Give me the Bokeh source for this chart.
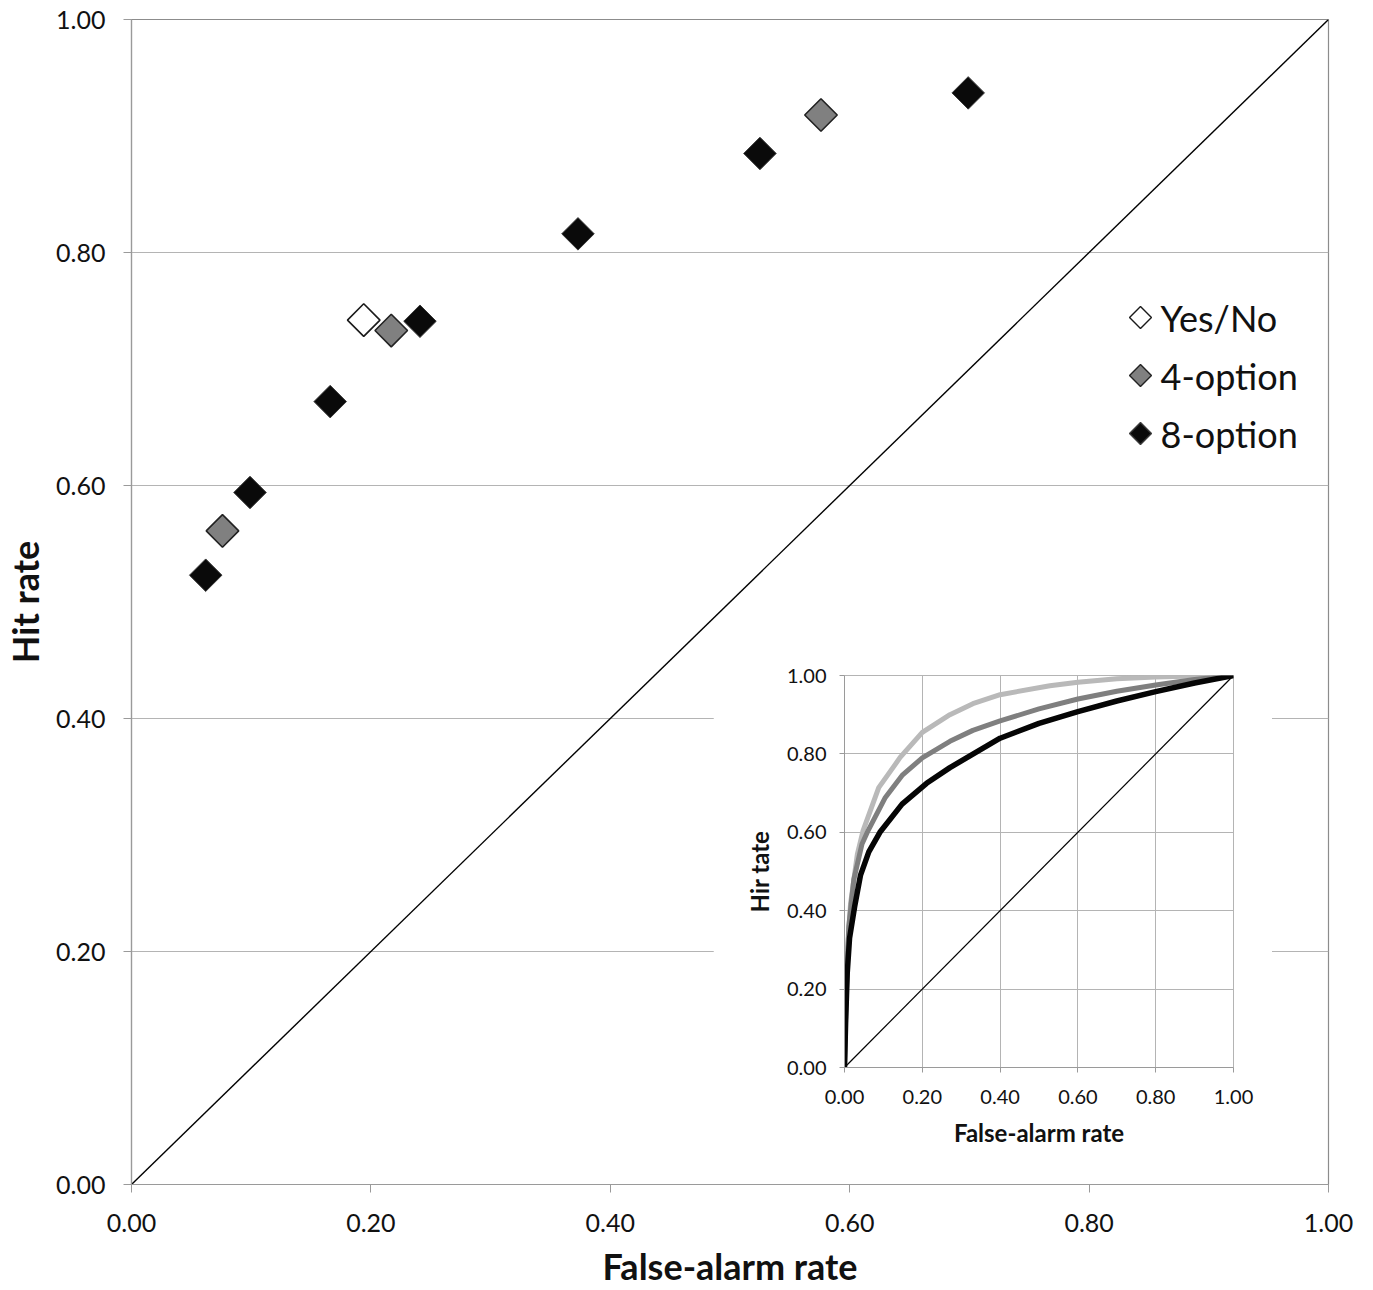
import numpy as np
from bokeh.plotting import figure
from bokeh.layouts import column
from bokeh.models import Range1d, FixedTicker, NumeralTickFormatter
from bokeh.core.properties import value
from bokeh.embed import file_html
from bokeh.resources import INLINE

# ---------------- data ----------------
fa_8opt = [0.062, 0.099, 0.166, 0.241, 0.373, 0.525, 0.699]
hit_8opt = [0.523, 0.594, 0.672, 0.741, 0.816, 0.885, 0.937]
fa_4opt = [0.076, 0.217, 0.576]
hit_4opt = [0.561, 0.733, 0.918]
fa_yn = [0.194]
hit_yn = [0.742]

legend_labels = ["Yes/No", "4-option", "8-option"]
legend_fills = ["white", "#808080", "#0a0a0a"]
legend_lines = ["#1a1a1a", "#222222", "#3a3a3a"]

diag = [0.0, 1.0]
ticks = [0.0, 0.2, 0.4, 0.6, 0.8, 1.0]

# inset ROC curves
roc_black_x = [0, 0.003, 0.007, 0.013, 0.026, 0.041, 0.0625, 0.091, 0.148, 0.211, 0.271, 0.40, 0.50, 0.60, 0.70, 0.80, 0.90, 1.0]
roc_black_y = [0, 0.12, 0.24, 0.33, 0.41, 0.49, 0.55, 0.60, 0.672, 0.725, 0.765, 0.84, 0.878, 0.908, 0.935, 0.959, 0.981, 1.0]
roc_mid_x = [0, 0.003, 0.007, 0.011, 0.024, 0.045, 0.061, 0.105, 0.148, 0.20, 0.271, 0.33, 0.40, 0.50, 0.60, 0.70, 0.80, 0.90, 1.0]
roc_mid_y = [0, 0.13, 0.26, 0.36, 0.48, 0.57, 0.605, 0.689, 0.745, 0.79, 0.832, 0.86, 0.884, 0.915, 0.94, 0.96, 0.976, 0.99, 1.0]
roc_light_x = [0, 0.003, 0.007, 0.0154, 0.033, 0.048, 0.088, 0.131, 0.143, 0.20, 0.271, 0.33, 0.40, 0.528, 0.60, 0.70, 0.80, 0.90, 1.0]
roc_light_y = [0, 0.14, 0.28, 0.417, 0.544, 0.605, 0.714, 0.774, 0.791, 0.855, 0.90, 0.928, 0.951, 0.974, 0.983, 0.992, 0.996, 0.999, 1.0]

FONT = "Lato"

# ---------------- main figure ----------------
W, H = 1367, 1290
BL, BR, BT, BB = 131, 39, 19, 106
p = figure(width=W, height=H, output_backend="svg", toolbar_location=None,
           x_range=Range1d(0, 1), y_range=Range1d(0, 1),
           min_border_left=BL, min_border_right=BR, min_border_top=BT, min_border_bottom=BB)
p.background_fill_color = "white"
p.outline_line_color = "#8c8c8c"
p.outline_line_width = 1.2

p.xgrid.grid_line_color = None
p.ygrid.grid_line_color = "#b4b4b4"
p.ygrid.grid_line_width = 1.2

for ax in (p.xaxis[0], p.yaxis[0]):
    ax.ticker = FixedTicker(ticks=ticks)
    ax.formatter = NumeralTickFormatter(format="0.00")
    ax.axis_line_color = "#9a9a9a"
    ax.axis_line_width = 1.2
    ax.major_tick_line_color = "#9a9a9a"
    ax.major_tick_out = 8
    ax.major_tick_in = 0
    ax.minor_tick_line_color = None
    ax.major_label_text_font = FONT
    ax.major_label_text_font_size = "25px"
    ax.major_label_text_color = "#111111"
    ax.axis_label_text_font = FONT
    ax.axis_label_text_font_style = "bold"
    ax.axis_label_text_font_size = "36px"
    ax.axis_label_text_color = "#111111"

p.xaxis.axis_label = "False-alarm rate"
p.yaxis.axis_label = "Hit rate"
p.xaxis.major_label_standoff = 21
p.xaxis.axis_label_standoff = 9
p.yaxis.major_label_standoff = 18
p.yaxis.axis_label_standoff = 6

p.line(diag, diag, line_color="black", line_width=1.4)

p.scatter(fa_yn, hit_yn, marker="square", angle=np.pi / 4, size=23,
          fill_color="white", line_color="#1a1a1a", line_width=1.6)
p.scatter(fa_4opt, hit_4opt, marker="square", angle=np.pi / 4, size=23,
          fill_color="#808080", line_color="#222222", line_width=1.6)
p.scatter(fa_8opt, hit_8opt, marker="square", angle=np.pi / 4, size=23,
          fill_color="#0a0a0a", line_color="#3a3a3a", line_width=1.0)

# legend (drawn manually so that the markers can be rotated diamonds like the data)
frame_w = W - BL - BR
frame_h = H - BT - BB
leg_x = 1009 / frame_w           # marker centre, as a fraction of the frame width
leg_top = 1 - 298 / frame_h      # first row centre
leg_step = 58 / frame_h          # row spacing
leg_y = [leg_top - i * leg_step for i in range(len(legend_labels))]
p.scatter([leg_x] * 3, leg_y, marker="square", angle=np.pi / 4, size=15.5,
          fill_color=legend_fills, line_color=legend_lines, line_width=1.4)
p.text([leg_x + 20 / frame_w] * 3, leg_y, text=legend_labels,
       text_font=value(FONT), text_font_size="36px", text_color="#111111",
       text_baseline="middle", text_align="left")

# ---------------- inset figure ----------------
QH = 507
q = figure(width=559, height=QH, output_backend="svg", toolbar_location=None,
           x_range=Range1d(0, 1), y_range=Range1d(0, 1),
           min_border_left=BL, min_border_right=BR, min_border_top=25, min_border_bottom=90)
q.background_fill_color = "white"
q.border_fill_color = "white"
q.outline_line_color = "#b4b4b4"
q.xgrid.grid_line_color = "#b4b4b4"
q.ygrid.grid_line_color = "#b4b4b4"
for ax in (q.xaxis[0], q.yaxis[0]):
    ax.ticker = FixedTicker(ticks=ticks)
    ax.formatter = NumeralTickFormatter(format="0.00")
    ax.axis_line_color = "#9a9a9a"
    ax.major_tick_line_color = "#9a9a9a"
    ax.major_tick_out = 5
    ax.major_tick_in = 0
    ax.minor_tick_line_color = None
    ax.major_label_text_font = FONT
    ax.major_label_text_font_size = "20px"
    ax.major_label_text_color = "#111111"
    ax.axis_label_text_font = FONT
    ax.axis_label_text_font_style = "bold"
    ax.axis_label_text_font_size = "24px"
    ax.axis_label_text_color = "#111111"
q.xaxis.axis_label = "False-alarm rate"
q.yaxis.axis_label = "Hir tate"
q.xaxis.major_label_standoff = 17
q.xaxis.axis_label_standoff = 11
q.yaxis.major_label_standoff = 13
q.yaxis.axis_label_standoff = 10

q.line(diag, diag, line_color="black", line_width=1.2)
q.line(roc_light_x, roc_light_y, line_color="#b9b9b9", line_width=5, line_join="round")
q.line(roc_mid_x, roc_mid_y, line_color="#7f7f7f", line_width=5, line_join="round")
q.line(roc_black_x, roc_black_y, line_color="#050505", line_width=5.5, line_join="round")

q.styles = {"margin-top": f"{650 - H}px", "margin-left": "713px",
            "position": "relative", "z-index": "2"}

layout = column(p, q)
open("out.html", "w").write(file_html(layout, INLINE))
